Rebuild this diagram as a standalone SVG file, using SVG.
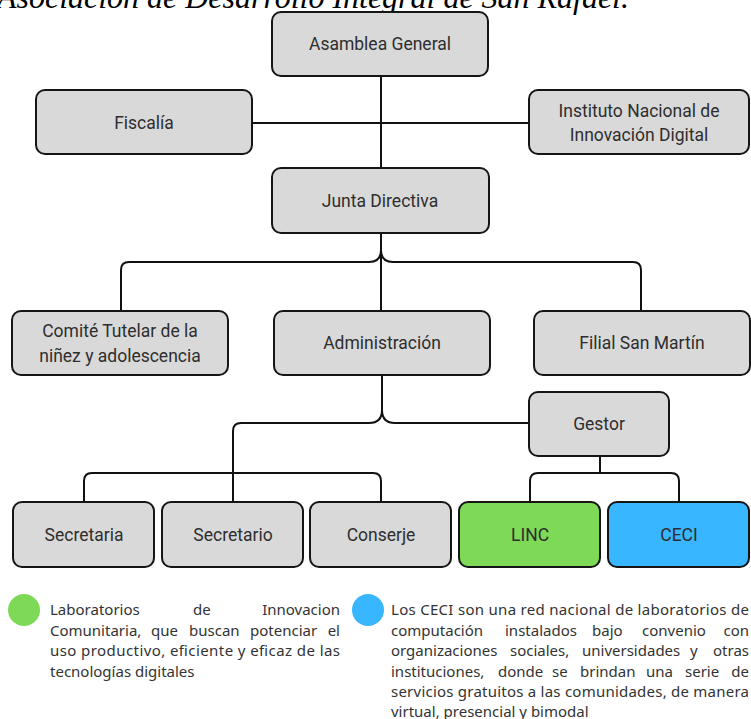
<svg xmlns="http://www.w3.org/2000/svg" width="751" height="719" viewBox="0 0 751 719">
<style>
.box{fill:#d9d9d9;stroke:#151515;stroke-width:2}
.linc{fill:#7ed957;stroke:#151515;stroke-width:2}
.ceci{fill:#38b6ff;stroke:#151515;stroke-width:2}
.lbl{font-family:Roboto,"Liberation Sans",sans-serif;font-size:17.5px;fill:#2e2e2e;text-anchor:middle}
.con{fill:none;stroke:#111;stroke-width:2}
.leg{font-family:"Noto Sans","Open Sans",sans-serif;font-size:15px;fill:#333}
.title{font-family:"Liberation Serif",serif;font-style:italic;font-size:31px;fill:#000}
</style>
<rect width="751" height="719" fill="#fff"/>
<text class="title" x="-3" y="8" textLength="632" lengthAdjust="spacingAndGlyphs">Asociación de Desarrollo Integral de San Rafael.</text>
<g id="connectors">
<path class="con" d="M381 76 V168"/>
<path class="con" d="M252 123 H529"/>
<path class="con" d="M381 233 V311"/>
<path class="con" d="M381 250 Q381 262 369 262 H129 Q121 262 121 270 V311"/>
<path class="con" d="M381 250 Q381 262 393 262 H633 Q641 262 641 270 V311"/>
<path class="con" d="M382 375 V410 Q382 423 369 423 H241 Q233 423 233 431 V502"/>
<path class="con" d="M382 410 Q382 423 395 423 H529"/>
<path class="con" d="M84 502 V481 Q84 473 92 473 H373 Q381 473 381 481 V502"/>
<path class="con" d="M600 456 V473"/>
<path class="con" d="M530 502 V481 Q530 473 538 473 H671 Q679 473 679 481 V502"/>
</g>
<g id="asamblea"><rect class="box" x="272" y="12" width="216" height="64" rx="9"/><text class="lbl" x="380" y="50">Asamblea General</text></g>
<g id="fiscalia"><rect class="box" x="36" y="90" width="216" height="64" rx="9"/><text class="lbl" x="144" y="129">Fiscalía</text></g>
<g id="instituto"><rect class="box" x="529" y="90" width="220" height="64" rx="9"/><text class="lbl" x="639" y="117">Instituto Nacional de</text><text class="lbl" x="639" y="141">Innovación Digital</text></g>
<g id="junta"><rect class="box" x="272" y="168" width="217" height="65" rx="9"/><text class="lbl" x="380" y="207">Junta Directiva</text></g>
<g id="comite"><rect class="box" x="12" y="311" width="216" height="64" rx="9"/><text class="lbl" x="120" y="337">Comité Tutelar de la</text><text class="lbl" x="120" y="362">niñez y adolescencia</text></g>
<g id="administracion"><rect class="box" x="274" y="311" width="216" height="64" rx="9"/><text class="lbl" x="382" y="349">Administración</text></g>
<g id="filial"><rect class="box" x="534" y="311" width="216" height="64" rx="9"/><text class="lbl" x="642" y="349">Filial San Martín</text></g>
<g id="gestor"><rect class="box" x="529" y="392" width="140" height="64" rx="9"/><text class="lbl" x="599" y="430">Gestor</text></g>
<g id="secretaria"><rect class="box" x="13" y="502" width="141" height="65" rx="9"/><text class="lbl" x="84" y="541">Secretaria</text></g>
<g id="secretario"><rect class="box" x="162" y="502" width="141" height="65" rx="9"/><text class="lbl" x="233" y="541">Secretario</text></g>
<g id="conserje"><rect class="box" x="310" y="502" width="141" height="65" rx="9"/><text class="lbl" x="381" y="541">Conserje</text></g>
<g id="linc"><rect class="linc" x="459" y="502" width="141" height="65" rx="9"/><text class="lbl" x="530" y="541">LINC</text></g>
<g id="ceci"><rect class="ceci" x="608" y="502" width="141" height="65" rx="9"/><text class="lbl" x="679" y="541">CECI</text></g>
<g id="legend-linc">
<circle cx="24" cy="610" r="16" fill="#7ed957"/>
<text class="leg" y="615"><tspan x="50">Laboratorios</tspan><tspan x="193">de</tspan><tspan x="340" text-anchor="end">Innovacion</tspan></text>
<text class="leg" y="636"><tspan x="50">Comunitaria,</tspan><tspan x="151">que</tspan><tspan x="189">buscan</tspan><tspan x="250">potenciar</tspan><tspan x="340" text-anchor="end">el</tspan></text>
<text class="leg" x="50" y="656" textLength="290" lengthAdjust="spacing">uso productivo, eficiente y eficaz de las</text>
<text class="leg" x="50" y="677">tecnologías digitales</text>
</g>
<g id="legend-ceci">
<circle cx="368" cy="610" r="16" fill="#38b6ff"/>
<text class="leg" x="391" y="615" textLength="358" lengthAdjust="spacing">Los CECI son una red nacional de laboratorios de</text>
<text class="leg" y="636"><tspan x="391">computación</tspan><tspan x="505">instalados</tspan><tspan x="592">bajo</tspan><tspan x="642">convenio</tspan><tspan x="749" text-anchor="end">con</tspan></text>
<text class="leg" y="656"><tspan x="391">organizaciones</tspan><tspan x="510">sociales,</tspan><tspan x="582">universidades</tspan><tspan x="690">y</tspan><tspan x="749" text-anchor="end">otras</tspan></text>
<text class="leg" y="677"><tspan x="391">instituciones,</tspan><tspan x="498">donde</tspan><tspan x="552">se</tspan><tspan x="580">brindan</tspan><tspan x="646">una</tspan><tspan x="685">serie</tspan><tspan x="749" text-anchor="end">de</tspan></text>
<text class="leg" x="391" y="697" textLength="358" lengthAdjust="spacing">servicios gratuitos a las comunidades, de manera</text>
<text class="leg" x="391" y="717">virtual, presencial y bimodal</text>
</g>
</svg>
